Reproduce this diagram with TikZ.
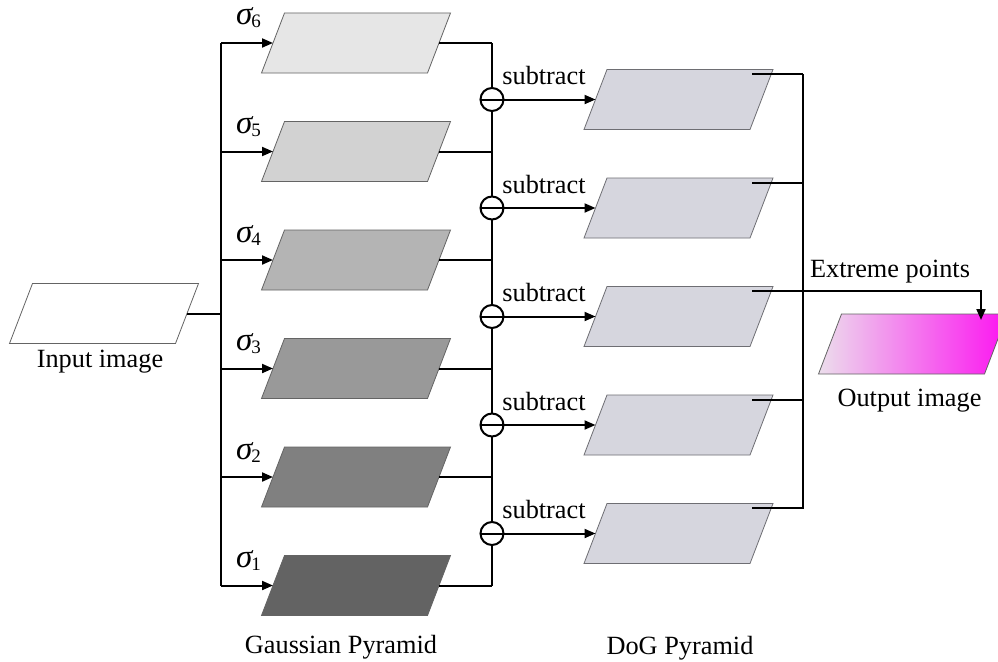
\documentclass[tikz,border=0pt]{standalone}
\usepackage{fontspec}
\setmainfont{Liberation Serif}
\usetikzlibrary{arrows.meta,calc}
\definecolor{gsix}{RGB}{230,230,230}
\definecolor{gfive}{RGB}{210,210,210}
\definecolor{gfour}{RGB}{180,180,180}
\definecolor{gthree}{RGB}{153,153,153}
\definecolor{gtwo}{RGB}{128,128,128}
\definecolor{gone}{RGB}{99,99,99}
\definecolor{gedge}{RGB}{100,100,100}
\definecolor{dogc}{RGB}{214,214,222}
\definecolor{dogedge}{RGB}{110,110,115}
\definecolor{outl}{RGB}{236,222,236}
\definecolor{outm}{RGB}{240,130,238}
\definecolor{outr}{RGB}{252,20,240}
\newcommand{\parag}[4]{%
  \draw[#4] (#2-94.5,#3+30) -- (#2+71.5,#3+30) -- (#2+94.5,#3-30) -- (#2-71.5,#3-30) -- cycle;
  \coordinate (#1-w) at (#2-83,#3);
  \coordinate (#1-e) at (#2+83,#3);
}
\newcommand{\sig}[1]{{\fontsize{33}{33}\selectfont\itshape σ}\kern-1pt\raisebox{-3pt}{\fontsize{19}{19}\selectfont #1}}
\tikzset{
  conn/.style={line width=2pt, draw=black},
  tip/.style={-{Triangle[length=11pt,width=9pt]}},
  lbl/.style={anchor=base, inner sep=0pt, font=\fontsize{26.3}{30}\selectfont},
}
\begin{document}
\begin{tikzpicture}[x=1pt,y=-1pt]
\clip (0,0) rectangle (998,661);
\fill[white] (0,0) rectangle (998,661);
% bus coordinates
\coordinate (lt) at (221,43);
\coordinate (lb) at (221,585.5);
\coordinate (rt) at (492,43);
\coordinate (rb) at (492,585.5);
\coordinate (rbt) at (803,74);
\coordinate (rbb) at (803,508.5);
\coordinate (oarr) at (981,320);
% input image
\parag{in}{104}{313.5}{fill=white,draw=gedge,line width=0.8pt}
\node[lbl] (inlbl) at (100,367) {Input image};
\draw[conn] (in-e) -- (in-e -| lt);
\draw[conn] (lt) -- (lb);
\draw[conn] (rt) -- (rb);
% gaussian pyramid
\foreach \k/\c in {6/gsix,5/gfive,4/gfour,3/gthree,2/gtwo,1/gone}{
  \pgfmathsetmacro\cy{43+108.5*(6-\k)}
  \parag{g\k}{356}{\cy}{fill=\c,draw=gedge,line width=0.8pt}
  \node[anchor=base west, inner sep=0pt] (s\k) at (236,\cy-18) {\sig{\k}};
  \draw[conn,tip] (g\k-w -| lt) -- (g\k-w);
  \draw[conn] (g\k-e) -- (g\k-e -| rt);
}
\node[lbl] (glbl) at (341,653) {Gaussian Pyramid};
% DoG pyramid
\draw[conn] (rbt) -- (rbb);
\foreach \j in {1,...,5}{
  \pgfmathsetmacro\cy{99.5+108.5*(\j-1)}
  \parag{d\j}{678.5}{\cy}{fill=dogc,draw=dogedge,line width=0.8pt}
  \coordinate (d\j-o) at (752,\cy-25.5);
  \node[circle, draw, fill=white, line width=2pt, minimum size=23pt, inner sep=0pt] (c\j) at (492,\cy) {};
  \draw[conn,tip] (c\j.west) -- (d\j-w);
  \node[lbl] (sub\j) at (544,\cy-15) {subtract};
}
\foreach \j in {1,2,4,5}{
  \draw[conn] (d\j-o) -- (d\j-o -| rbt);
}
\node[lbl] (dlbl) at (680,654) {DoG Pyramid};
% output image
\parag{out}{913}{344}{left color=outl,middle color=outm,right color=outr,draw=gedge,line width=0.8pt}
\draw[conn,tip] (d3-o) -| (oarr);
\node[lbl] (ext) at (890,277) {Extreme points};
\node[lbl] (outlbl) at (909.5,406) {Output image};
\end{tikzpicture}
\end{document}
